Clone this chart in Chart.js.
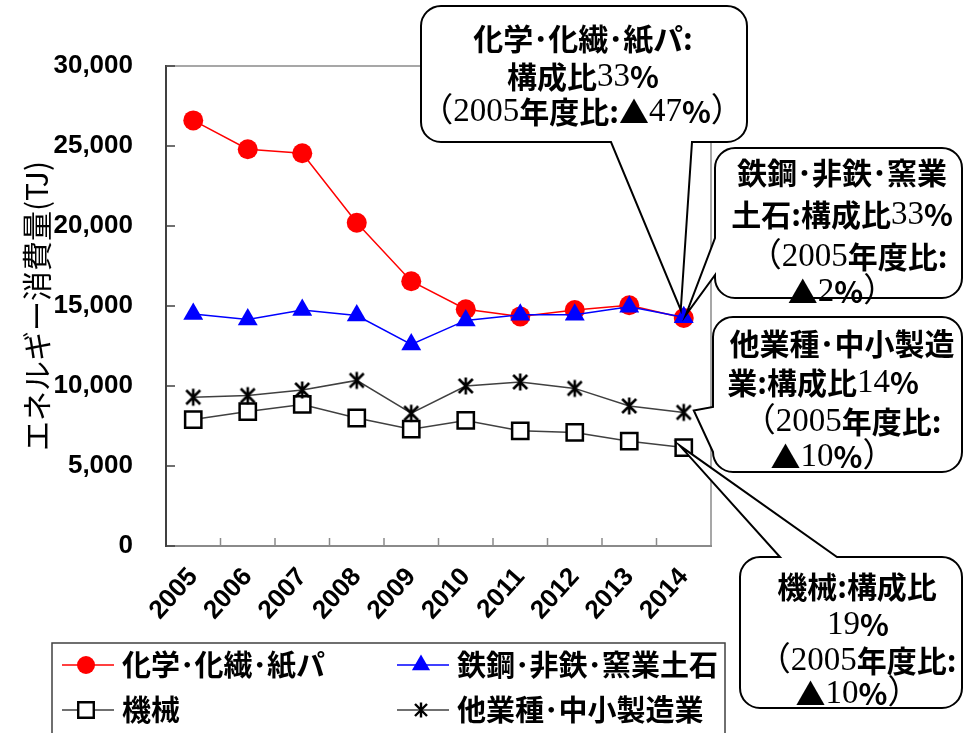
<!DOCTYPE html>
<html>
<head>
<meta charset="utf-8">
<script src="https://cdn.jsdelivr.net/npm/chart.js@4.4.1/dist/chart.umd.min.js"></script>
<style>
  html, body { margin: 0; padding: 0; background: #fff; }
  canvas { display: block; }
</style>
</head>
<body>
<canvas id="c" width="963" height="733"></canvas>
<script>
// Fiscal years on the category axis
const years = ['2005', '2006', '2007', '2008', '2009', '2010', '2011', '2012', '2013', '2014'];

// Energy consumption by industry group (TJ)
const chemical  = [26600, 24800, 24550, 20200, 16550, 14800, 14350, 14750, 15050, 14250];
const steel     = [14500, 14150, 14750, 14400, 12600, 14100, 14450, 14450, 14950, 14300];
const machinery = [7900, 8400, 8850, 8000, 7300, 7850, 7200, 7100, 6550, 6150];
const others    = [9300, 9400, 9750, 10350, 8300, 10000, 10250, 9850, 8750, 8350];

const seriesNames = ['化学･化繊･紙パ', '鉄鋼･非鉄･窯業土石', '機械', '他業種･中小製造業'];
const yTickLabels = ['0', '5,000', '10,000', '15,000', '20,000', '25,000', '30,000'];
const yTitle = 'エネルギー消費量(TJ)';

// Call-out notes attached to the 2014 point of each series
const calloutTexts = [
  ['化学･化繊･紙パ:', '構成比33%', '（2005年度比:▲47%）'],
  ['鉄鋼･非鉄･窯業', '土石:構成比33%', '（2005年度比:', '▲2%）'],
  ['他業種･中小製造', '業:構成比14%', '（2005年度比:', '▲10%）'],
  ['機械:構成比', '19%', '（2005年度比:', '▲10%）']
];

// Asterisk marker: vertical stroke plus a diagonal cross
function asteriskMarker(size, lw) {
  const cv = document.createElement('canvas');
  cv.width = size; cv.height = size;
  const g = cv.getContext('2d');
  g.strokeStyle = '#000';
  g.lineWidth = lw;
  g.lineCap = 'butt';
  const m = size / 2, p = 1.5;
  g.beginPath();
  g.moveTo(m, p); g.lineTo(m, size - p);
  g.moveTo(p + 1.5, p + 1.5); g.lineTo(size - p - 1.5, size - p - 1.5);
  g.moveTo(size - p - 1.5, p + 1.5); g.lineTo(p + 1.5, size - p - 1.5);
  g.stroke();
  return cv;
}
const starBig = asteriskMarker(20, 2.6);
const starSmall = asteriskMarker(18, 2.4);

const SANS = '"Noto Sans CJK JP", "Liberation Sans", sans-serif';
const LATIN = '"Liberation Sans", Arial, sans-serif';
const SERIF = '"Liberation Serif", "Noto Sans CJK JP", serif';

// Text line mixing serif digits/brackets with bold gothic kana/kanji
function drawRich(ctx, text, cx, cy, size) {
  const runs = [];
  let cur = null;
  for (const ch of text) {
    const serif = /[0-9（）]/.test(ch);
    if (!cur || cur.serif !== serif) { cur = { serif, s: '' }; runs.push(cur); }
    cur.s += ch;
  }
  const fontFor = r => r.serif ? `${Math.round(size * 1.1)}px ${SERIF}` : `bold ${size}px ${SANS}`;
  let total = 0;
  runs.forEach(r => { ctx.font = fontFor(r); r.w = ctx.measureText(r.s).width; total += r.w; });
  let x = cx - total / 2;
  ctx.textAlign = 'left';
  ctx.textBaseline = 'middle';
  ctx.fillStyle = '#000';
  runs.forEach(r => { ctx.font = fontFor(r); ctx.fillText(r.s, x, cy); x += r.w; });
}

// Rounded box with a wedge pointer inserted into one edge
function calloutPath(ctx, b, ptr, tip) {
  const r = 20;
  const x = b.x, y = b.y, x2 = b.x + b.w, y2 = b.y + b.h;
  ctx.beginPath();
  ctx.moveTo(x + r, y);
  if (ptr.edge === 'top') { ctx.lineTo(ptr.a, y); ctx.lineTo(tip.x, tip.y); ctx.lineTo(ptr.b, y); }
  ctx.lineTo(x2 - r, y); ctx.arcTo(x2, y, x2, y + r, r);
  ctx.lineTo(x2, y2 - r); ctx.arcTo(x2, y2, x2 - r, y2, r);
  if (ptr.edge === 'bottom') { ctx.lineTo(ptr.b, y2); ctx.lineTo(tip.x, tip.y); ctx.lineTo(ptr.a, y2); }
  ctx.lineTo(x + r, y2); ctx.arcTo(x, y2, x, y2 - r, r);
  if (ptr.edge === 'left') { ctx.lineTo(x, ptr.b); ctx.lineTo(tip.x, tip.y); ctx.lineTo(x, ptr.a); }
  ctx.lineTo(x, y + r); ctx.arcTo(x, y, x + r, y, r);
  ctx.closePath();
}

const callouts = [
  { ds: 0, box: { x: 421, y: 6, w: 326, h: 136 }, ptr: { edge: 'bottom', a: 611, b: 692 }, off: { x: -3, y: -8 },
    lines: [[583, 39], [583, 77], [582, 112]] },
  { ds: 1, box: { x: 715, y: 148, w: 247, h: 150 }, ptr: { edge: 'left', a: 238, b: 275 }, off: { x: 2, y: -2 },
    lines: [[842, 173], [842, 215], [848, 257], [842, 292]] },
  { ds: 3, box: { x: 713, y: 317, w: 249, h: 155 }, ptr: { edge: 'left', a: 407, b: 452 }, off: { x: 10, y: -2 },
    lines: [[842, 344], [823, 383], [842, 422], [833, 457]] },
  { ds: 2, box: { x: 740, y: 557, w: 222, h: 151 }, ptr: { edge: 'top', a: 780, b: 837 }, off: { x: -4, y: -2 },
    lines: [[857, 587], [858, 625], [857, 661], [858, 694]] }
];

const framePlugin = {
  id: 'frame',
  beforeDatasetsDraw(chart) {
    const { ctx, chartArea: a, scales } = chart;
    ctx.save();
    // top and right border of the plot area
    ctx.strokeStyle = '#8a8a8a';
    ctx.lineWidth = 1.5;
    ctx.beginPath();
    ctx.moveTo(a.left, a.top); ctx.lineTo(a.right, a.top); ctx.lineTo(a.right, a.bottom);
    ctx.stroke();
    // inward tick marks on the value axis
    ctx.strokeStyle = '#404040';
    ctx.lineWidth = 1.5;
    scales.y.ticks.forEach(t => {
      const py = scales.y.getPixelForValue(t.value);
      ctx.beginPath(); ctx.moveTo(a.left, py); ctx.lineTo(a.left + 9, py); ctx.stroke();
    });
    // inward tick marks between categories
    ctx.strokeStyle = '#8a8a8a';
    for (let i = 0; i < years.length - 1; i++) {
      const px = (scales.x.getPixelForValue(i) + scales.x.getPixelForValue(i + 1)) / 2;
      ctx.beginPath(); ctx.moveTo(px, a.bottom); ctx.lineTo(px, a.bottom - 8); ctx.stroke();
    }
    ctx.restore();
  }
};

const notesPlugin = {
  id: 'notes',
  afterDraw(chart) {
    const { ctx } = chart;
    ctx.save();
    // call-outs
    callouts.forEach((c, k) => {
      const pt = chart.getDatasetMeta(c.ds).data[years.length - 1];
      const tip = { x: pt.x + c.off.x, y: pt.y + c.off.y };
      calloutPath(ctx, c.box, c.ptr, tip);
      ctx.fillStyle = '#fff';
      ctx.fill();
      ctx.strokeStyle = '#000';
      ctx.lineWidth = 2;
      ctx.lineJoin = 'miter';
      ctx.stroke();
      calloutTexts[k].forEach((t, i) => drawRich(ctx, t, c.lines[i][0], c.lines[i][1], 30));
    });

    // legend box
    const L = { x: 52, y: 643, w: 673, h: 110 };
    ctx.strokeStyle = '#404040';
    ctx.lineWidth = 1.5;
    ctx.strokeRect(L.x, L.y, L.w, L.h);
    const slots = [
      { x: 62, y: 665 }, { x: 397, y: 665 },
      { x: 62, y: 710 }, { x: 397, y: 710 }
    ];
    chart.data.datasets.forEach((ds, s) => {
      const p = slots[s];
      ctx.strokeStyle = ds.borderColor;
      ctx.lineWidth = 1.5;
      ctx.beginPath(); ctx.moveTo(p.x, p.y); ctx.lineTo(p.x + 52, p.y); ctx.stroke();
      const style = ds.legendStyle;
      ctx.fillStyle = ds.pointBackgroundColor;
      ctx.strokeStyle = ds.pointBorderColor;
      ctx.lineWidth = style.borderWidth;
      Chart.helpers.drawPoint(ctx, { pointStyle: style.pointStyle, radius: style.radius, borderWidth: style.borderWidth, rotation: 0 }, p.x + 24, p.y);
      ctx.fillStyle = '#000';
      ctx.font = `bold 29px ${SANS}`;
      ctx.textAlign = 'left';
      ctx.textBaseline = 'middle';
      ctx.fillText(ds.label, p.x + 60, p.y);
    });
    ctx.restore();
  }
};

new Chart(document.getElementById('c'), {
  type: 'line',
  data: {
    labels: years,
    datasets: [
      { label: seriesNames[0], data: chemical, borderColor: '#ff0000', borderWidth: 1.5,
        pointStyle: 'circle', pointRadius: 10, pointBackgroundColor: '#ff0000', pointBorderColor: '#ff0000', pointBorderWidth: 0,
        legendStyle: { pointStyle: 'circle', radius: 9, borderWidth: 0 }, order: 4 },
      { label: seriesNames[1], data: steel, borderColor: '#0000ff', borderWidth: 1.5,
        pointStyle: 'triangle', pointRadius: 11.5, pointBackgroundColor: '#0000ff', pointBorderColor: '#0000ff', pointBorderWidth: 0,
        legendStyle: { pointStyle: 'triangle', radius: 10.5, borderWidth: 0 }, order: 3 },
      { label: seriesNames[2], data: machinery, borderColor: '#404040', borderWidth: 1.5,
        pointStyle: 'rect', pointRadius: 11.5, pointBackgroundColor: '#ffffff', pointBorderColor: '#000000', pointBorderWidth: 2.5,
        legendStyle: { pointStyle: 'rect', radius: 11, borderWidth: 2.4 }, order: 2 },
      { label: seriesNames[3], data: others, borderColor: '#404040', borderWidth: 1.5,
        pointStyle: starBig, pointRadius: 10, pointBackgroundColor: '#000', pointBorderColor: '#000', pointBorderWidth: 0,
        legendStyle: { pointStyle: starSmall, radius: 9, borderWidth: 0 }, order: 1 }
    ]
  },
  options: {
    responsive: false,
    animation: false,
    events: [],
    layout: { padding: { top: 66, right: 252, left: 0, bottom: 0 } },
    plugins: { legend: { display: false }, tooltip: { enabled: false } },
    elements: { line: { tension: 0 } },
    scales: {
      x: {
        offset: true,
        grid: { display: false, drawTicks: false },
        border: { display: true, color: '#8a8a8a', width: 2 },
        ticks: {
          autoSkip: false, maxRotation: 48, minRotation: 48, padding: 16, color: '#000',
          font: { family: LATIN, size: 26, weight: 'bold' }
        },
        afterFit(s) { s.height = 187; }
      },
      y: {
        min: 0, max: 30000,
        grid: { display: false, drawTicks: false },
        border: { display: true, color: '#404040', width: 2 },
        ticks: {
          stepSize: 5000, padding: 33, color: '#000',
          font: { family: LATIN, size: 26, weight: 'bold' },
          callback: (v, i) => yTickLabels[i]
        },
        title: {
          display: true, text: yTitle, color: '#000',
          font: { family: SANS, size: 30 },
          padding: { top: 19, bottom: 0 }
        },
        afterFit(s) { s.width = 166; }
      }
    }
  },
  plugins: [framePlugin, notesPlugin]
});
</script>
</body>
</html>
